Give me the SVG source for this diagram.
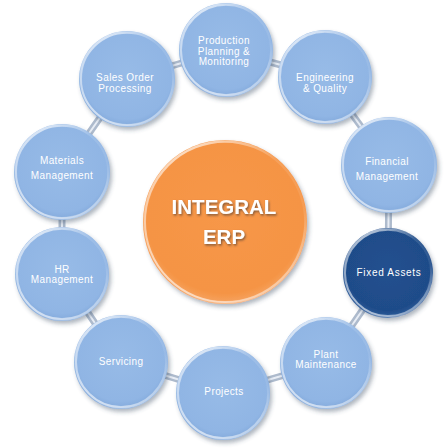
<svg xmlns="http://www.w3.org/2000/svg" width="446" height="448" viewBox="0 0 446 448">
<defs>
  <radialGradient id="gBlue" cx="0.5" cy="0.45" r="0.55">
    <stop offset="0" stop-color="#97bbe7"/>
    <stop offset="0.85" stop-color="#90b5e4"/>
    <stop offset="1" stop-color="#82a9db"/>
  </radialGradient>
  <radialGradient id="gNavy" cx="0.5" cy="0.45" r="0.55">
    <stop offset="0" stop-color="#22508f"/>
    <stop offset="0.85" stop-color="#1f4c89"/>
    <stop offset="1" stop-color="#2d5c9c"/>
  </radialGradient>
  <radialGradient id="gOrange" cx="0.5" cy="0.45" r="0.55">
    <stop offset="0" stop-color="#f79748"/>
    <stop offset="0.88" stop-color="#f59444"/>
    <stop offset="1" stop-color="#f6a463"/>
  </radialGradient>
  <linearGradient id="gRim" x1="0.2" y1="0" x2="0.8" y2="1">
    <stop offset="0" stop-color="#ffffff" stop-opacity="0.75"/>
    <stop offset="0.35" stop-color="#ffffff" stop-opacity="0.1"/>
    <stop offset="0.65" stop-color="#ffffff" stop-opacity="0.05"/>
    <stop offset="1" stop-color="#ffffff" stop-opacity="0.5"/>
  </linearGradient>
  <linearGradient id="gRimL" x1="1" y1="0" x2="0" y2="1">
    <stop offset="0" stop-color="#ffffff" stop-opacity="0"/>
    <stop offset="0.6" stop-color="#ffffff" stop-opacity="0.1"/>
    <stop offset="1" stop-color="#ffffff" stop-opacity="0.85"/>
  </linearGradient>
  <filter id="sh" x="-20%" y="-20%" width="150%" height="150%">
    <feDropShadow dx="2" dy="3" stdDeviation="2.2" flood-color="#3a4a60" flood-opacity="0.4"/>
  </filter>
  <filter id="tsh" x="-10%" y="-30%" width="130%" height="170%">
    <feDropShadow dx="1" dy="1.5" stdDeviation="1" flood-color="#5a4030" flood-opacity="0.75"/>
  </filter>
</defs>
<style>
  .tube { stroke: #aebbcd; stroke-width: 7; stroke-linecap: round; fill: none; }
  .tubeHi { stroke: #eef3f9; stroke-width: 2; stroke-linecap: round; fill: none; opacity: 0.9; }
  .blue { fill: url(#gBlue); filter: url(#sh); }
  .navy { fill: url(#gNavy); filter: url(#sh); }
  .orange { fill: url(#gOrange); filter: url(#sh); }
  .rim { fill: none; stroke: url(#gRim); stroke-width: 2.5; }
  .rimL { fill: none; stroke: url(#gRimL); stroke-width: 2; }
  .lbl { font-family: "Liberation Sans", Arial, sans-serif; font-size: 10px; letter-spacing: 0.4px; fill: #ffffff; text-anchor: middle; }
  .big { font-family: "Liberation Sans", Arial, sans-serif; font-size: 20.5px; font-weight: bold; fill: #ffffff; text-anchor: middle; filter: url(#tsh); }
</style>

<g id="connectors">
  <line class="tube" x1="226" y1="50" x2="325" y2="77"/>
  <line class="tube" x1="325" y1="77" x2="389" y2="165"/>
  <line class="tube" x1="389" y1="165" x2="388" y2="273"/>
  <line class="tube" x1="388" y1="273" x2="326" y2="363"/>
  <line class="tube" x1="326" y1="363" x2="223" y2="393"/>
  <line class="tube" x1="223" y1="393" x2="121" y2="362"/>
  <line class="tube" x1="121" y1="362" x2="62" y2="274"/>
  <line class="tube" x1="62" y1="274" x2="62" y2="172"/>
  <line class="tube" x1="62" y1="172" x2="127" y2="79"/>
  <line class="tube" x1="127" y1="79" x2="226" y2="50"/>
  <line class="tubeHi" x1="226" y1="50" x2="325" y2="77"/>
  <line class="tubeHi" x1="325" y1="77" x2="389" y2="165"/>
  <line class="tubeHi" x1="389" y1="165" x2="388" y2="273"/>
  <line class="tubeHi" x1="388" y1="273" x2="326" y2="363"/>
  <line class="tubeHi" x1="326" y1="363" x2="223" y2="393"/>
  <line class="tubeHi" x1="223" y1="393" x2="121" y2="362"/>
  <line class="tubeHi" x1="121" y1="362" x2="62" y2="274"/>
  <line class="tubeHi" x1="62" y1="274" x2="62" y2="172"/>
  <line class="tubeHi" x1="62" y1="172" x2="127" y2="79"/>
  <line class="tubeHi" x1="127" y1="79" x2="226" y2="50"/>
</g>

<g id="center">
  <circle class="orange" cx="225" cy="222" r="82"/>
  <circle class="rim" cx="225" cy="222" r="80.5"/>
  <circle class="rimL" cx="225" cy="222" r="80"/>
  <text class="big" x="224" y="214">INTEGRAL</text>
  <text class="big" x="224" y="244">ERP</text>
</g>

<g id="production">
  <circle class="blue" cx="226" cy="50" r="47"/>
  <circle class="rim" cx="226" cy="50" r="45.5"/>
  <circle class="rimL" cx="226" cy="50" r="45"/>
  <text class="lbl" x="224" y="44">Production</text>
  <text class="lbl" x="224" y="55">Planning &amp;</text>
  <text class="lbl" x="224" y="65">Monitoring</text>
</g>

<g id="engineering">
  <circle class="blue" cx="325" cy="77" r="47"/>
  <circle class="rim" cx="325" cy="77" r="45.5"/>
  <circle class="rimL" cx="325" cy="77" r="45"/>
  <text class="lbl" x="325" y="81">Engineering</text>
  <text class="lbl" x="325" y="92">&amp; Quality</text>
</g>

<g id="financial">
  <circle class="blue" cx="389" cy="165" r="48"/>
  <circle class="rim" cx="389" cy="165" r="46.5"/>
  <circle class="rimL" cx="389" cy="165" r="46"/>
  <text class="lbl" x="387" y="165">Financial</text>
  <text class="lbl" x="387" y="180">Management</text>
</g>

<g id="fixed-assets">
  <circle class="navy" cx="388" cy="273" r="45"/>
  <circle class="rim" cx="388" cy="273" r="43.5"/>
  <circle class="rimL" cx="388" cy="273" r="43"/>
  <text class="lbl" x="389" y="276" style="letter-spacing:0.7px">Fixed Assets</text>
</g>

<g id="plant">
  <circle class="blue" cx="326" cy="363" r="46"/>
  <circle class="rim" cx="326" cy="363" r="44.5"/>
  <circle class="rimL" cx="326" cy="363" r="44"/>
  <text class="lbl" x="326" y="358">Plant</text>
  <text class="lbl" x="326" y="368">Maintenance</text>
</g>

<g id="projects">
  <circle class="blue" cx="223" cy="393" r="47"/>
  <circle class="rim" cx="223" cy="393" r="45.5"/>
  <circle class="rimL" cx="223" cy="393" r="45"/>
  <text class="lbl" x="224" y="395">Projects</text>
</g>

<g id="servicing">
  <circle class="blue" cx="121" cy="362" r="47"/>
  <circle class="rim" cx="121" cy="362" r="45.5"/>
  <circle class="rimL" cx="121" cy="362" r="45"/>
  <text class="lbl" x="121" y="365">Servicing</text>
</g>

<g id="hr">
  <circle class="blue" cx="62" cy="274" r="47"/>
  <circle class="rim" cx="62" cy="274" r="45.5"/>
  <circle class="rimL" cx="62" cy="274" r="45"/>
  <text class="lbl" x="62" y="273">HR</text>
  <text class="lbl" x="62" y="283">Management</text>
</g>

<g id="materials">
  <circle class="blue" cx="62" cy="172" r="48"/>
  <circle class="rim" cx="62" cy="172" r="46.5"/>
  <circle class="rimL" cx="62" cy="172" r="46"/>
  <text class="lbl" x="62" y="164">Materials</text>
  <text class="lbl" x="62" y="179">Management</text>
</g>

<g id="sales">
  <circle class="blue" cx="127" cy="79" r="48"/>
  <circle class="rim" cx="127" cy="79" r="46.5"/>
  <circle class="rimL" cx="127" cy="79" r="46"/>
  <text class="lbl" x="125" y="81">Sales Order</text>
  <text class="lbl" x="125" y="92">Processing</text>
</g>
</svg>
